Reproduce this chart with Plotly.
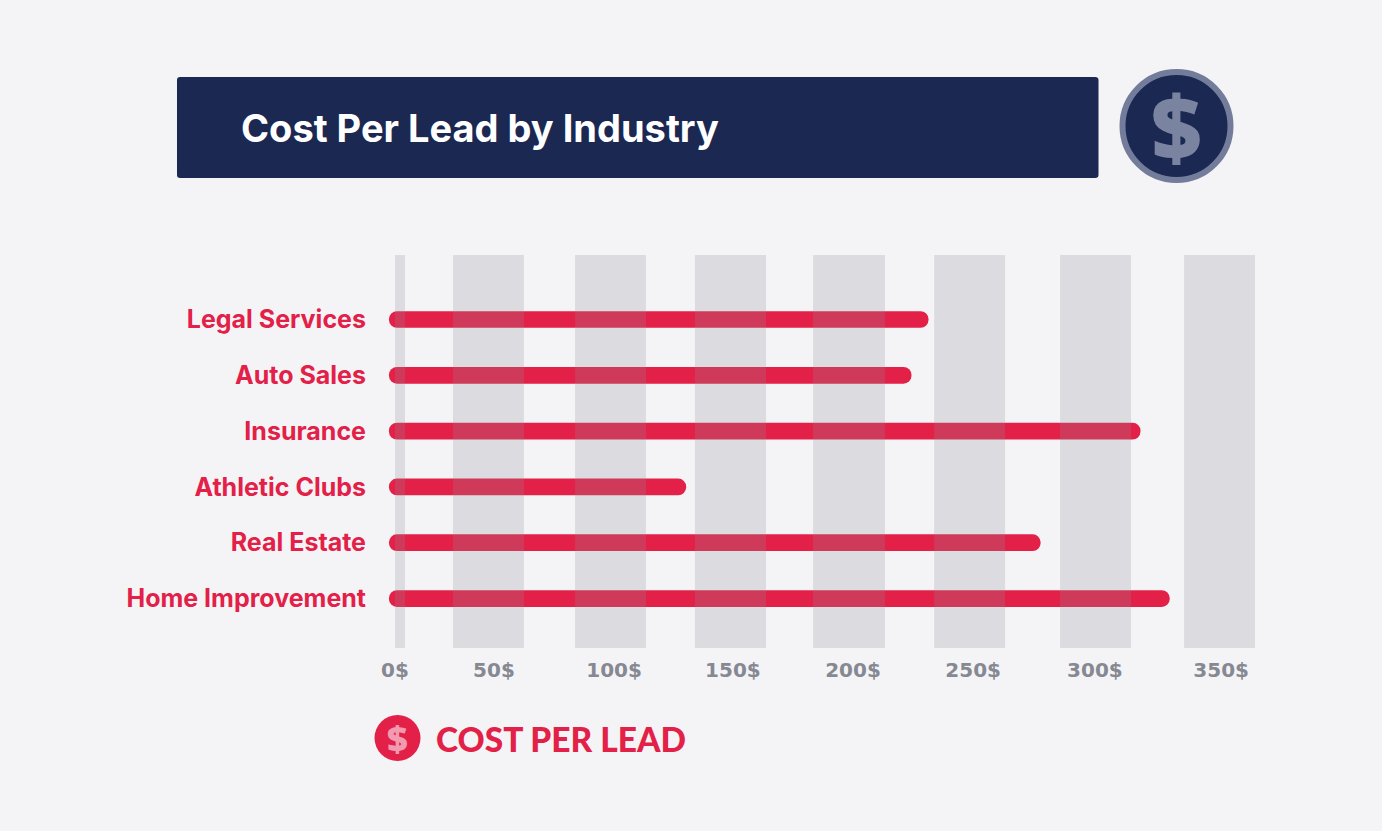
import plotly.graph_objects as go

categories = ["Legal Services", "Auto Sales", "Insurance", "Athletic Clubs", "Real Estate", "Home Improvement"]
cost_per_lead = [230.5, 223.5, 317.5, 131.0, 276.5, 329.5]
bar_start = 9.0
band_left = [11.5, 35.3, 85.4, 134.6, 183.1, 232.8, 284.5, 335.4]
band_right = [15.6, 64.4, 114.5, 163.8, 212.6, 261.9, 313.6, 364.5]
tick_values = [11.5, 52.1, 101.4, 150.2, 199.5, 248.8, 298.8, 350.6]
tick_labels = ["0$", "50$", "100$", "150$", "200$", "250$", "300$", "350$"]

W, H = 1382, 831
L, R, T, B = 375, 1255, 255, 648
RED = "#e32048"
NAVY = "#1a2852"
BG = "#f4f4f6"
TICK = "#868892"


def px(x):
    return (x - L) / (R - L)


def py(y):
    return (B - y) / (B - T)


fig = go.Figure()
fig.add_trace(go.Bar(
    y=categories,
    x=[v - bar_start for v in cost_per_lead],
    base=bar_start,
    orientation="h",
    width=0.3,
    marker=dict(color=RED, line=dict(width=0), cornerradius=8),
    hoverinfo="y+x",
    showlegend=False,
))
fig.add_trace(go.Bar(
    x=[(a + b) / 2 for a, b in zip(band_left, band_right)],
    y=[1] * len(band_left),
    width=[b - a for a, b in zip(band_left, band_right)],
    xaxis="x2",
    yaxis="y2",
    marker=dict(color="rgba(146,142,150,0.24)", line=dict(width=0), cornerradius=0),
    hoverinfo="skip",
    showlegend=False,
))

xrange_ = [3.28, 364.5]
fig.update_layout(
    width=W,
    height=H,
    autosize=False,
    margin=dict(l=L, r=W - R, t=T, b=H - B, pad=0),
    paper_bgcolor=BG,
    plot_bgcolor="rgba(0,0,0,0)",
    barmode="overlay",
    xaxis=dict(
        range=xrange_,
        tickmode="array",
        tickvals=tick_values,
        ticktext=tick_labels,
        showgrid=False,
        zeroline=False,
        showline=False,
        ticks="",
        ticklabelstandoff=8,
        tickfont=dict(family="DejaVu Sans", size=20, color=TICK, weight="bold"),
    ),
    yaxis=dict(
        type="category",
        categoryorder="array",
        categoryarray=categories,
        range=[5.887, -1.156],
        showgrid=False,
        zeroline=False,
        showline=False,
        ticks="",
        ticklabelstandoff=8,
        tickfont=dict(family="Inter", size=25, color=RED, weight=700),
    ),
    xaxis2=dict(overlaying="x", matches="x", visible=False),
    yaxis2=dict(overlaying="y", range=[0, 1], visible=False),
    shapes=[
        dict(type="path", xref="paper", yref="paper", layer="below", line=dict(width=0), fillcolor=NAVY,
             path=f"M {px(180)} {py(77)} L {px(1095)} {py(77)} Q {px(1098.5)} {py(77)} {px(1098.5)} {py(80)} "
                  f"L {px(1098.5)} {py(175)} Q {px(1098.5)} {py(178)} {px(1095)} {py(178)} "
                  f"L {px(180)} {py(178)} Q {px(177)} {py(178)} {px(177)} {py(175)} "
                  f"L {px(177)} {py(80)} Q {px(177)} {py(77)} {px(180)} {py(77)} Z"),
        dict(type="circle", xref="paper", yref="paper", layer="below", fillcolor=NAVY,
             line=dict(color="#737d9b", width=6),
             x0=px(1122.5), x1=px(1230.5), y0=py(180), y1=py(72)),
        dict(type="circle", xref="paper", yref="paper", layer="below", fillcolor=RED,
             line=dict(width=0),
             x0=px(374.5), x1=px(420.5), y0=py(761), y1=py(715)),
    ],
    annotations=[
        dict(text="Cost Per Lead by Industry", xref="paper", yref="paper", x=px(239), y=py(128),
             xanchor="left", yanchor="middle", showarrow=False,
             font=dict(family="Inter", size=38, color="white", weight=700)),
        dict(text="$", xref="paper", yref="paper", x=px(1176.5), y=py(126),
             xanchor="center", yanchor="middle", showarrow=False,
             font=dict(family="Open Sans", size=88, color="#7a84a0", weight=800)),
        dict(text="$", xref="paper", yref="paper", x=px(397.5), y=py(738),
             xanchor="center", yanchor="middle", showarrow=False,
             font=dict(family="Open Sans", size=36, color="#f29bb0", weight=800)),
        dict(text="COST PER LEAD", xref="paper", yref="paper", x=px(434), y=py(739),
             xanchor="left", yanchor="middle", showarrow=False,
             font=dict(family="Lato", size=33.5, color=RED, weight=900)),
    ],
)

fig.write_html("out.html", config={"displayModeBar": False},
               post_script="document.body.style.margin='0';document.body.style.background='#f4f4f6';")
